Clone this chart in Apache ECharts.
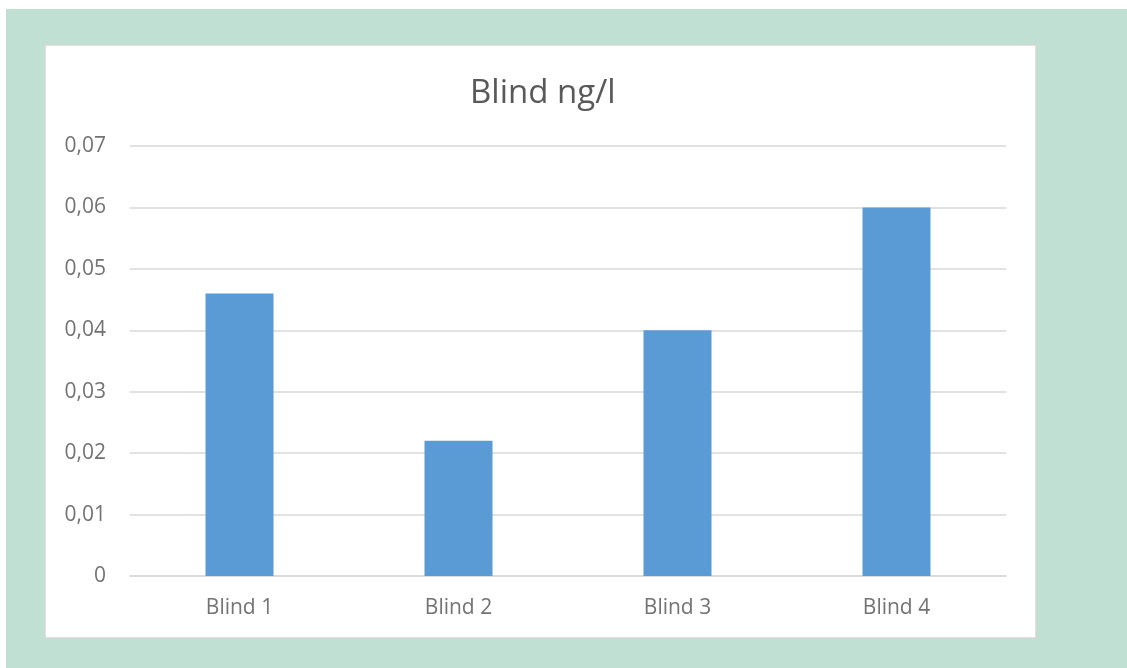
<!DOCTYPE html>
<html>
<head>
<meta charset="utf-8">
<script src="https://cdn.jsdelivr.net/npm/echarts@6/dist/echarts.min.js"></script>
<style>
  html, body { margin: 0; padding: 0; background: #ffffff; }
  #chart { width: 1127px; height: 668px; }
</style>
</head>
<body>
<div id="chart"></div>
<script>
// Blank measurements (ng/l)
const categories = ['Blind 1', 'Blind 2', 'Blind 3', 'Blind 4'];
const values = [0.046, 0.022, 0.04, 0.06];
const titleText = 'Blind ng/l';

const chart = echarts.init(document.getElementById('chart'), null, { renderer: 'canvas' });

const FONT = '"Open Sans", "Liberation Sans", sans-serif';
const LABEL_COLOR = '#737373';

chart.setOption({
  animation: false,
  graphic: [
    {
      type: 'rect', z: -10, silent: true,
      shape: { x: 6, y: 9, width: 1121, height: 659 },
      style: { fill: '#bfe0d2' }
    },
    {
      type: 'rect', z: -9, silent: true,
      shape: { x: 45, y: 45, width: 991, height: 593 },
      style: { fill: '#ffffff', stroke: '#d6d6d6', lineWidth: 1.5 }
    }
  ],
  title: {
    text: titleText,
    left: 465,
    top: 72,
    textStyle: { fontFamily: FONT, fontSize: 33, fontWeight: 'normal', color: '#595959' }
  },
  grid: { left: 130, right: 121, top: 146, bottom: 92, containLabel: false },
  xAxis: {
    type: 'category',
    data: categories,
    axisLine: { lineStyle: { color: '#d9d9d9', width: 1.5 } },
    axisTick: { show: false },
    axisLabel: { margin: 22, fontFamily: FONT, fontSize: 21, color: LABEL_COLOR }
  },
  yAxis: {
    type: 'value',
    min: 0,
    max: 0.07,
    interval: 0.01,
    axisLine: { show: false },
    axisTick: { show: false },
    splitLine: { lineStyle: { color: '#d9d9d9', width: 1.5 } },
    axisLabel: {
      margin: 24,
      fontFamily: FONT,
      fontSize: 21,
      color: LABEL_COLOR,
      formatter: v => (v === 0 ? '0' : v.toFixed(2).replace('.', ','))
    }
  },
  series: [{
    type: 'bar',
    data: values,
    barWidth: 68,
    itemStyle: { color: '#5b9bd5' }
  }]
});
</script>
</body>
</html>
